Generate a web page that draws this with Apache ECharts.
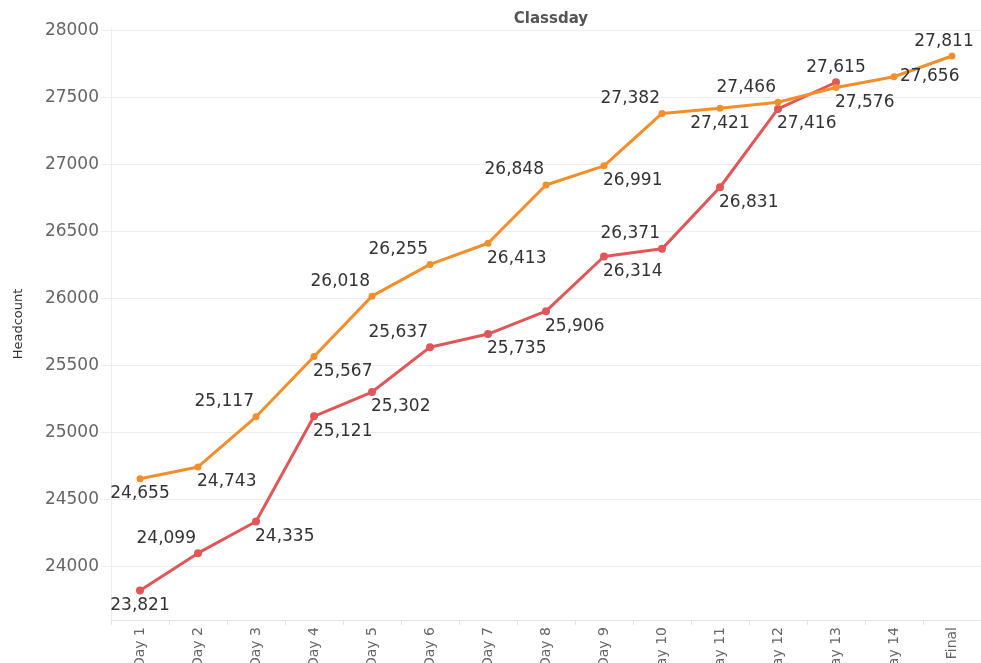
<!DOCTYPE html>
<html><head><meta charset="utf-8">
<script src="https://cdn.jsdelivr.net/npm/echarts@6/dist/echarts.min.js"></script>
<style>html,body{margin:0;padding:0;background:#fff}#c{width:981px;height:663px}</style>
</head><body><div id="c"></div>
<script>
const categories = ['Day 1','Day 2','Day 3','Day 4','Day 5','Day 6','Day 7','Day 8','Day 9','Day 10','Day 11','Day 12','Day 13','Day 14','Final'];
const orangeValues = [24655,24743,25117,25567,26018,26255,26413,26848,26991,27382,27421,27466,27576,27656,27811];
const redValues = [23821,24099,24335,25121,25302,25637,25735,25906,26314,26371,26831,27416,27615,null,null];
const yTickValues = [24000,24500,25000,25500,26000,26500,27000,27500,28000];

// label placement codes (layout only)
const orangePlace = ['b','br','tl','br','tl','tl','br','tl','br','tl','b','tl','br','r','tf'];
const redPlace = ['b','tl','br','br','br','tl','br','br','br','tl','br','br','t','b','b'];

const placeStyle = {
  tl: {align:'right', offset:[-2,-15]},
  br: {align:'left', offset:[-1,15]},
  b:  {align:'center', offset:[0,15]},
  t:  {align:'center', offset:[0,-15]},
  r:  {align:'left', offset:[6,0]},
  tf: {align:'center', offset:[-8,-14]}
};
const fmt = v => v.toLocaleString('en-US');
function buildData(vals, places) {
  return vals.map((v, i) => {
    if (v === null) return null;
    const p = placeStyle[places[i]];
    return {value: v, label: {position: 'inside', align: p.align, verticalAlign: 'middle', offset: p.offset}};
  });
}
const labelBase = {show: true, color: '#333', fontFamily: 'DejaVu Sans', fontSize: 17, textBorderWidth: 0, formatter: p => fmt(p.value)};

const chart = echarts.init(document.getElementById('c'), null, {renderer: 'canvas'});
chart.setOption({
  animation: false,
  backgroundColor: '#fff',
  title: {text: 'Classday', left: 546, top: 7, textAlign: 'center',
    textStyle: {fontFamily: 'DejaVu Sans', fontSize: 15, fontWeight: 'bold', color: '#555'}},
  grid: {left: 111, right: 0, top: 28, bottom: 43, containLabel: false, outerBoundsMode: 'none'},
  xAxis: {
    type: 'category', data: categories, boundaryGap: true,
    axisLine: {lineStyle: {color: '#e3e3e3', width: 1}},
    axisTick: {show: true, length: 5, lineStyle: {color: '#e3e3e3'}},
    axisLabel: {rotate: 90, margin: 7, color: '#666', fontFamily: 'DejaVu Sans', fontSize: 14, interval: 0}
  },
  yAxis: {
    type: 'value', min: 23600, max: 28020,
    name: 'Headcount', nameLocation: 'middle', nameGap: 86, nameRotate: 90,
    nameTextStyle: {fontFamily: 'DejaVu Sans', fontSize: 13, color: '#333'},
    axisLine: {show: true, lineStyle: {color: '#eeeeee'}},
    axisTick: {show: true, length: 10, customValues: yTickValues, lineStyle: {color: '#eeeeee'}},
    axisLabel: {customValues: yTickValues, margin: 12, color: '#666', fontFamily: 'DejaVu Sans', fontSize: 17,
      formatter: v => String(v)},
    splitLine: {show: true, lineStyle: {color: '#eeeeee', width: 1}}
  },
  series: [
    {name: 'Red', type: 'line', data: buildData(redValues, redPlace), color: '#E15759',
      lineStyle: {width: 3}, symbol: 'circle', symbolSize: 8, label: labelBase, z: 2},
    {name: 'Orange', type: 'line', data: buildData(orangeValues, orangePlace), color: '#F28E2B',
      lineStyle: {width: 3}, symbol: 'circle', symbolSize: 7, label: labelBase, z: 3}
  ]
});
</script></body></html>
